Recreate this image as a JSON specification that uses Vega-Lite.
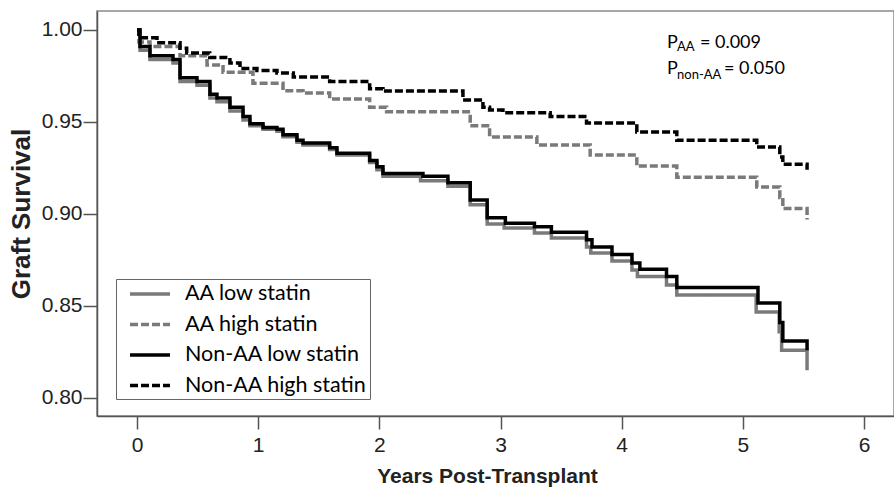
{
  "$schema": "https://vega.github.io/schema/vega-lite/v6.json",
  "width": 797,
  "height": 405,
  "autosize": "none",
  "padding": {"left": 97, "top": 11, "right": 0, "bottom": 77},
  "background": "white",
  "config": {
    "view": {"stroke": "#8a8a8a", "strokeWidth": 1.5},
    "axis": {"labelFont": "Liberation Sans", "titleFont": "Liberation Sans", "labelColor": "#222", "titleColor": "#222", "domainColor": "#555", "tickColor": "#555", "domainWidth": 1.5, "tickWidth": 1.5, "grid": false},
    "legend": {"labelLimit": 400}
  },
  "layer": [
    {
      "data": {"values": [
        {"g":"AA low statin","t":0,"s":1.0},{"g":"AA low statin","t":0.025,"s":0.989},{"g":"AA low statin","t":0.107,"s":0.984},{"g":"AA low statin","t":0.297,"s":0.982},{"g":"AA low statin","t":0.355,"s":0.972},{"g":"AA low statin","t":0.495,"s":0.970},{"g":"AA low statin","t":0.602,"s":0.963},{"g":"AA low statin","t":0.66,"s":0.961},{"g":"AA low statin","t":0.767,"s":0.956},{"g":"AA low statin","t":0.875,"s":0.951},{"g":"AA low statin","t":0.932,"s":0.948},{"g":"AA low statin","t":1.04,"s":0.946},{"g":"AA low statin","t":1.155,"s":0.945},{"g":"AA low statin","t":1.205,"s":0.942},{"g":"AA low statin","t":1.32,"s":0.939},{"g":"AA low statin","t":1.37,"s":0.9375},{"g":"AA low statin","t":1.59,"s":0.935},{"g":"AA low statin","t":1.65,"s":0.932},{"g":"AA low statin","t":1.92,"s":0.928},{"g":"AA low statin","t":1.98,"s":0.924},{"g":"AA low statin","t":2.03,"s":0.9205},{"g":"AA low statin","t":2.34,"s":0.918},{"g":"AA low statin","t":2.566,"s":0.915},{"g":"AA low statin","t":2.75,"s":0.905},{"g":"AA low statin","t":2.89,"s":0.8946},{"g":"AA low statin","t":3.03,"s":0.8924},{"g":"AA low statin","t":3.28,"s":0.8897},{"g":"AA low statin","t":3.42,"s":0.887},{"g":"AA low statin","t":3.71,"s":0.882},{"g":"AA low statin","t":3.745,"s":0.8788},{"g":"AA low statin","t":3.92,"s":0.8745},{"g":"AA low statin","t":4.085,"s":0.8696},{"g":"AA low statin","t":4.13,"s":0.866},{"g":"AA low statin","t":4.37,"s":0.8614},{"g":"AA low statin","t":4.455,"s":0.856},{"g":"AA low statin","t":5.11,"s":0.8467},{"g":"AA low statin","t":5.30,"s":0.836},{"g":"AA low statin","t":5.32,"s":0.826},{"g":"AA low statin","t":5.53,"s":0.815},
        {"g":"AA high statin","t":0,"s":1.0},{"g":"AA high statin","t":0.016,"s":0.9935},{"g":"AA high statin","t":0.107,"s":0.991},{"g":"AA high statin","t":0.355,"s":0.986},{"g":"AA high statin","t":0.578,"s":0.981},{"g":"AA high statin","t":0.71,"s":0.977},{"g":"AA high statin","t":0.957,"s":0.971},{"g":"AA high statin","t":1.205,"s":0.967},{"g":"AA high statin","t":1.37,"s":0.9657},{"g":"AA high statin","t":1.59,"s":0.9625},{"g":"AA high statin","t":1.92,"s":0.958},{"g":"AA high statin","t":2.06,"s":0.9555},{"g":"AA high statin","t":2.75,"s":0.948},{"g":"AA high statin","t":2.91,"s":0.9418},{"g":"AA high statin","t":3.30,"s":0.9375},{"g":"AA high statin","t":3.74,"s":0.932},{"g":"AA high statin","t":4.125,"s":0.926},{"g":"AA high statin","t":4.455,"s":0.920},{"g":"AA high statin","t":5.115,"s":0.9147},{"g":"AA high statin","t":5.305,"s":0.909},{"g":"AA high statin","t":5.33,"s":0.903},{"g":"AA high statin","t":5.53,"s":0.897},
        {"g":"Non-AA low statin","t":0,"s":1.0},{"g":"Non-AA low statin","t":0.025,"s":0.991},{"g":"Non-AA low statin","t":0.107,"s":0.986},{"g":"Non-AA low statin","t":0.297,"s":0.984},{"g":"Non-AA low statin","t":0.355,"s":0.974},{"g":"Non-AA low statin","t":0.495,"s":0.972},{"g":"Non-AA low statin","t":0.602,"s":0.965},{"g":"Non-AA low statin","t":0.66,"s":0.963},{"g":"Non-AA low statin","t":0.767,"s":0.958},{"g":"Non-AA low statin","t":0.875,"s":0.953},{"g":"Non-AA low statin","t":0.932,"s":0.949},{"g":"Non-AA low statin","t":1.04,"s":0.947},{"g":"Non-AA low statin","t":1.155,"s":0.946},{"g":"Non-AA low statin","t":1.205,"s":0.943},{"g":"Non-AA low statin","t":1.32,"s":0.940},{"g":"Non-AA low statin","t":1.37,"s":0.9386},{"g":"Non-AA low statin","t":1.59,"s":0.936},{"g":"Non-AA low statin","t":1.65,"s":0.933},{"g":"Non-AA low statin","t":1.92,"s":0.929},{"g":"Non-AA low statin","t":1.98,"s":0.9256},{"g":"Non-AA low statin","t":2.03,"s":0.922},{"g":"Non-AA low statin","t":2.36,"s":0.9205},{"g":"Non-AA low statin","t":2.566,"s":0.917},{"g":"Non-AA low statin","t":2.75,"s":0.9076},{"g":"Non-AA low statin","t":2.89,"s":0.898},{"g":"Non-AA low statin","t":3.04,"s":0.895},{"g":"Non-AA low statin","t":3.28,"s":0.893},{"g":"Non-AA low statin","t":3.42,"s":0.890},{"g":"Non-AA low statin","t":3.71,"s":0.886},{"g":"Non-AA low statin","t":3.755,"s":0.882},{"g":"Non-AA low statin","t":3.92,"s":0.878},{"g":"Non-AA low statin","t":4.085,"s":0.8734},{"g":"Non-AA low statin","t":4.15,"s":0.870},{"g":"Non-AA low statin","t":4.37,"s":0.866},{"g":"Non-AA low statin","t":4.455,"s":0.860},{"g":"Non-AA low statin","t":5.125,"s":0.8516},{"g":"Non-AA low statin","t":5.305,"s":0.841},{"g":"Non-AA low statin","t":5.33,"s":0.831},{"g":"Non-AA low statin","t":5.53,"s":0.826},
        {"g":"Non-AA high statin","t":0,"s":1.0},{"g":"Non-AA high statin","t":0.016,"s":0.9957},{"g":"Non-AA high statin","t":0.165,"s":0.993},{"g":"Non-AA high statin","t":0.355,"s":0.990},{"g":"Non-AA high statin","t":0.41,"s":0.9875},{"g":"Non-AA high statin","t":0.60,"s":0.985},{"g":"Non-AA high statin","t":0.767,"s":0.982},{"g":"Non-AA high statin","t":0.85,"s":0.979},{"g":"Non-AA high statin","t":0.99,"s":0.978},{"g":"Non-AA high statin","t":1.155,"s":0.9766},{"g":"Non-AA high statin","t":1.29,"s":0.9745},{"g":"Non-AA high statin","t":1.59,"s":0.972},{"g":"Non-AA high statin","t":1.92,"s":0.968},{"g":"Non-AA high statin","t":2.03,"s":0.9668},{"g":"Non-AA high statin","t":2.69,"s":0.962},{"g":"Non-AA high statin","t":2.855,"s":0.958},{"g":"Non-AA high statin","t":2.91,"s":0.9565},{"g":"Non-AA high statin","t":3.02,"s":0.955},{"g":"Non-AA high statin","t":3.41,"s":0.953},{"g":"Non-AA high statin","t":3.71,"s":0.9495},{"g":"Non-AA high statin","t":4.125,"s":0.9446},{"g":"Non-AA high statin","t":4.455,"s":0.940},{"g":"Non-AA high statin","t":5.115,"s":0.9364},{"g":"Non-AA high statin","t":5.305,"s":0.931},{"g":"Non-AA high statin","t":5.33,"s":0.927},{"g":"Non-AA high statin","t":5.53,"s":0.924}
      ]},
      "mark": {"type": "line", "interpolate": "step-after", "strokeWidth": 3.5},
      "encoding": {
        "x": {"field": "t", "type": "quantitative", "scale": {"domain": [-0.3301, 6.2475], "nice": false, "zero": false},
          "axis": {"values": [0,1,2,3,4,5,6], "format": "d", "tickSize": 13, "labelPadding": 5, "labelFontSize": 21, "title": "Years Post-Transplant", "titleFontSize": 21, "titleFontWeight": "bold", "titlePadding": 10, "titleX": 390}},
        "y": {"field": "s", "type": "quantitative", "scale": {"domain": [0.7902, 1.0103], "nice": false, "zero": false},
          "axis": {"values": [0.80,0.85,0.90,0.95,1.00], "format": ".2f", "tickSize": 14, "labelPadding": 1, "labelFontSize": 21, "title": "Graft Survival", "titleFontSize": 26, "titleFontWeight": "bold", "titlePadding": 7}},
        "color": {"field": "g", "type": "nominal", "scale": {"domain": ["AA low statin","AA high statin","Non-AA low statin","Non-AA high statin"], "range": ["#7a7a7a","#7a7a7a","#000000","#000000"]},
          "legend": {"title": null, "orient": "none", "legendX": 19, "legendY": 268, "symbolType": "M-0.1,0L3.9,0", "symbolSize": 400, "symbolStrokeWidth": 3.5, "labelFont": "Lato", "labelFontSize": 21.5, "labelColor": "#000", "labelOffset": 42, "labelLimit": 400, "strokeColor": "#666", "fillColor": "white", "padding": 3, "rowPadding": 7.5}},
        "strokeDash": {"field": "g", "type": "nominal", "scale": {"domain": ["AA low statin","AA high statin","Non-AA low statin","Non-AA high statin"], "range": [[1,0],[8,3],[1,0],[8,3]]},
          "legend": {"title": null, "orient": "none", "legendX": 19, "legendY": 268, "symbolType": "M-0.1,0L3.9,0", "symbolSize": 400, "symbolStrokeWidth": 3.5, "labelFont": "Lato", "labelFontSize": 21.5, "labelColor": "#000", "labelOffset": 42, "labelLimit": 400, "strokeColor": "#666", "fillColor": "white", "padding": 3, "rowPadding": 7.5}}
      }
    },
    {
      "data": {"values": [
        {"t": 4.374, "s": 0.99266, "txt": "P"},
        {"t": 4.646, "s": 0.99266, "txt": "= 0.009"},
        {"t": 4.374, "s": 0.9788, "txt": "P"},
        {"t": 4.844, "s": 0.9788, "txt": "= 0.050"}
      ]},
      "mark": {"type": "text", "align": "left", "baseline": "middle", "font": "Lato", "fontSize": 18, "color": "#000"},
      "encoding": {
        "x": {"field": "t", "type": "quantitative"},
        "y": {"field": "s", "type": "quantitative"},
        "text": {"field": "txt"}
      }
    },
    {
      "data": {"values": [
        {"t": 4.457, "s": 0.99076, "txt": "AA"},
        {"t": 4.457, "s": 0.97554, "txt": "non-AA"}
      ]},
      "mark": {"type": "text", "align": "left", "baseline": "middle", "font": "Lato", "fontSize": 13, "color": "#000"},
      "encoding": {
        "x": {"field": "t", "type": "quantitative"},
        "y": {"field": "s", "type": "quantitative"},
        "text": {"field": "txt"}
      }
    }
  ]
}
